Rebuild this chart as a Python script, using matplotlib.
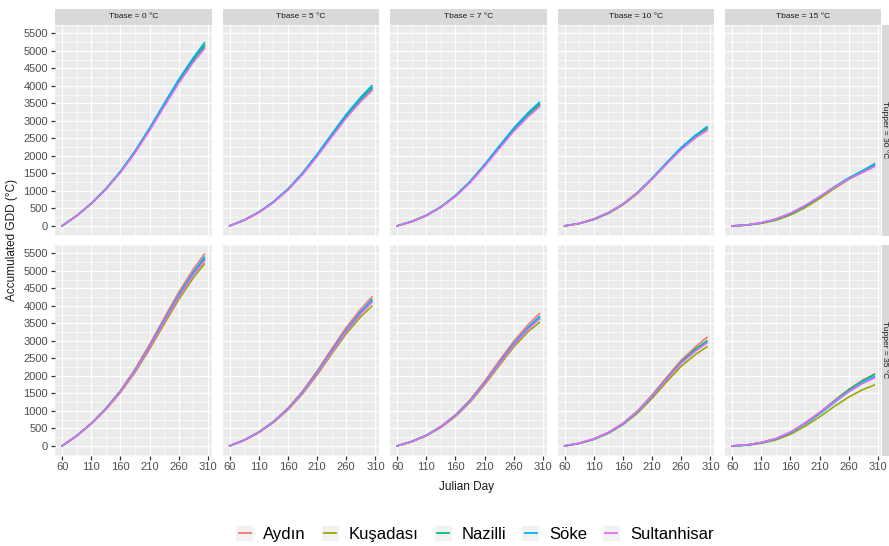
import matplotlib
matplotlib.use("Agg")
import matplotlib.pyplot as plt
from matplotlib.legend_handler import HandlerBase
from matplotlib.lines import Line2D
from matplotlib.patches import Rectangle

plt.rcParams['font.family'] = ['Liberation Sans', 'DejaVu Sans']

# ---------------- data ----------------
days = [60, 85, 110, 135, 160, 185, 210, 235, 260, 285, 304]
stations = ["Aydın", "Kuşadası", "Nazilli", "Söke", "Sultanhisar"]
colors = ["#F8766D", "#A3A500", "#00BF7D", "#00B0F6", "#E76BF3"]
tbase_labels = ["Tbase = 0 °C", "Tbase = 5 °C", "Tbase = 7 °C", "Tbase = 10 °C", "Tbase = 15 °C"]
tupper_labels = ["Tupper = 30 °C", "Tupper = 35 °C"]
x_ticks = [60, 110, 160, 210, 260, 310]
y_ticks = [0, 500, 1000, 1500, 2000, 2500, 3000, 3500, 4000, 4500, 5000, 5500]

# Tupper = 30 °C
gdd_u30_b0 = {
    "Aydın":       [0, 290, 640, 1055, 1545, 2115, 2765, 3445, 4115, 4715, 5110],
    "Kuşadası":    [0, 290, 635, 1050, 1535, 2105, 2755, 3445, 4125, 4735, 5150],
    "Nazilli":     [0, 290, 640, 1055, 1550, 2125, 2775, 3465, 4145, 4750, 5160],
    "Söke":        [0, 290, 640, 1060, 1555, 2135, 2795, 3495, 4185, 4805, 5230],
    "Sultanhisar": [0, 285, 630, 1040, 1520, 2085, 2725, 3405, 4075, 4675, 5060],
}
gdd_u30_b5 = {
    "Aydın":       [0, 165, 390, 680, 1045, 1490, 2015, 2575, 3125, 3600, 3900],
    "Kuşadası":    [0, 165, 385, 675, 1035, 1480, 2005, 2575, 3135, 3620, 3930],
    "Nazilli":     [0, 165, 390, 680, 1050, 1500, 2025, 2590, 3145, 3630, 3950],
    "Söke":        [0, 165, 390, 685, 1055, 1510, 2045, 2620, 3185, 3680, 4010],
    "Sultanhisar": [0, 160, 380, 665, 1025, 1465, 1980, 2535, 3080, 3555, 3860],
}
gdd_u30_b7 = {
    "Aydın":       [0, 125, 300, 540, 855, 1255, 1730, 2240, 2740, 3165, 3430],
    "Kuşadası":    [0, 125, 295, 535, 850, 1245, 1720, 2240, 2750, 3185, 3465],
    "Nazilli":     [0, 125, 300, 540, 860, 1260, 1740, 2255, 2760, 3195, 3480],
    "Söke":        [0, 125, 300, 545, 865, 1270, 1755, 2280, 2795, 3240, 3530],
    "Sultanhisar": [0, 120, 290, 530, 840, 1230, 1700, 2205, 2700, 3125, 3400],
}
gdd_u30_b10 = {
    "Aydın":       [0, 70, 195, 375, 625, 950, 1350, 1785, 2200, 2540, 2750],
    "Kuşadası":    [0, 65, 180, 355, 600, 925, 1335, 1785, 2215, 2570, 2790],
    "Nazilli":     [0, 70, 190, 370, 620, 950, 1355, 1800, 2225, 2580, 2800],
    "Söke":        [0, 70, 190, 370, 620, 950, 1360, 1810, 2240, 2600, 2830],
    "Sultanhisar": [0, 70, 195, 375, 620, 940, 1335, 1765, 2180, 2520, 2720],
}
gdd_u30_b15 = {
    "Aydın":       [0, 25, 90, 195, 355, 570, 820, 1085, 1335, 1540, 1700],
    "Kuşadası":    [0, 20, 70, 160, 310, 520, 780, 1065, 1330, 1555, 1740],
    "Nazilli":     [0, 25, 85, 190, 350, 565, 825, 1100, 1360, 1575, 1750],
    "Söke":        [0, 25, 85, 190, 350, 570, 830, 1110, 1370, 1590, 1770],
    "Sultanhisar": [0, 25, 90, 200, 365, 585, 835, 1095, 1340, 1540, 1700],
}
# Tupper = 35 °C
gdd_u35_b0 = {
    "Aydın":       [0, 290, 645, 1070, 1580, 2190, 2895, 3650, 4390, 5045, 5480],
    "Kuşadası":    [0, 285, 630, 1040, 1525, 2100, 2765, 3480, 4180, 4800, 5200],
    "Nazilli":     [0, 290, 640, 1060, 1555, 2145, 2830, 3560, 4280, 4915, 5330],
    "Söke":        [0, 290, 640, 1060, 1560, 2155, 2845, 3585, 4315, 4960, 5390],
    "Sultanhisar": [0, 285, 635, 1050, 1545, 2135, 2815, 3540, 4255, 4885, 5290],
}
gdd_u35_b5 = {
    "Aydın":       [0, 165, 395, 695, 1080, 1560, 2140, 2770, 3385, 3910, 4255],
    "Kuşadası":    [0, 160, 380, 665, 1030, 1485, 2030, 2625, 3205, 3695, 3995],
    "Nazilli":     [0, 165, 390, 685, 1055, 1520, 2080, 2690, 3285, 3795, 4125],
    "Söke":        [0, 165, 390, 685, 1060, 1530, 2095, 2710, 3315, 3835, 4175],
    "Sultanhisar": [0, 160, 385, 675, 1045, 1510, 2065, 2670, 3265, 3775, 4105],
}
gdd_u35_b7 = {
    "Aydın":       [0, 125, 305, 555, 885, 1315, 1845, 2425, 2990, 3470, 3775],
    "Kuşadası":    [0, 120, 290, 525, 840, 1245, 1745, 2290, 2825, 3270, 3525],
    "Nazilli":     [0, 125, 300, 545, 865, 1280, 1790, 2350, 2900, 3365, 3650],
    "Söke":        [0, 125, 300, 545, 870, 1290, 1805, 2370, 2925, 3395, 3690],
    "Sultanhisar": [0, 120, 295, 535, 855, 1270, 1780, 2335, 2880, 3340, 3620],
}
gdd_u35_b10 = {
    "Aydın":       [0, 75, 200, 385, 645, 1000, 1455, 1960, 2450, 2835, 3100],
    "Kuşadası":    [0, 70, 185, 360, 605, 935, 1360, 1830, 2275, 2620, 2830],
    "Nazilli":     [0, 75, 195, 380, 635, 985, 1430, 1925, 2400, 2775, 3000],
    "Söke":        [0, 70, 190, 370, 625, 970, 1410, 1900, 2370, 2735, 2950],
    "Sultanhisar": [0, 75, 200, 385, 640, 985, 1420, 1900, 2360, 2715, 2940],
}
gdd_u35_b15 = {
    "Aydın":       [0, 25, 95, 210, 390, 650, 955, 1290, 1615, 1890, 2050],
    "Kuşadası":    [0, 20, 75, 170, 330, 560, 830, 1125, 1395, 1615, 1740],
    "Nazilli":     [0, 25, 95, 205, 385, 645, 945, 1280, 1600, 1870, 2040],
    "Söke":        [0, 25, 90, 200, 375, 625, 915, 1235, 1545, 1815, 1980],
    "Sultanhisar": [0, 28, 97, 212, 395, 655, 950, 1260, 1550, 1795, 1940],
}

panels = [
    [gdd_u30_b0, gdd_u30_b5, gdd_u30_b7, gdd_u30_b10, gdd_u30_b15],
    [gdd_u35_b0, gdd_u35_b5, gdd_u35_b7, gdd_u35_b10, gdd_u35_b15],
]

# ---------------- layout ----------------
W, H = 889, 546
fig = plt.figure(figsize=(W / 100, H / 100), dpi=100)
fig.patch.set_facecolor("white")


def rect(left, top, width, height):
    return [left / W, 1 - (top + height) / H, width / W, height / H]


col_lefts = [55, 222.5, 390, 557.5, 725]
pw = 156.5
row_tops = [24.5, 244.5]
ph = 211

xmin, xmax = min(days), max(days)
xr = xmax - xmin
xlim = (xmin - 0.05 * xr, xmax + 0.05 * xr)
ymax_all = max(max(v) for row in panels for p in row for v in p.values())
ylim = (-0.05 * ymax_all, 1.05 * ymax_all)

x_minor = [(a + b) / 2 for a, b in zip(x_ticks[:-1], x_ticks[1:])]
y_step = y_ticks[1] - y_ticks[0]
y_minor = [t + y_step / 2 for t in [y_ticks[0] - y_step] + y_ticks]
y_minor = [m for m in y_minor if ylim[0] <= m <= ylim[1]]

for r in range(2):
    for c in range(5):
        ax = fig.add_axes(rect(col_lefts[c], row_tops[r], pw, ph))
        ax.set_facecolor("#EBEBEB")
        for s in ax.spines.values():
            s.set_visible(False)
        ax.set_xlim(*xlim)
        ax.set_ylim(*ylim)
        ax.set_xticks(x_ticks)
        ax.set_xticks(x_minor, minor=True)
        ax.set_yticks(y_ticks)
        ax.set_yticks(y_minor, minor=True)
        ax.grid(which="major", color="white", lw=0.9)
        ax.grid(which="minor", color="white", lw=0.45)
        ax.set_axisbelow(True)
        ax.tick_params(which="minor", length=0)
        ax.tick_params(which="major", length=3, width=0.9, color="#333333",
                       labelcolor="#4D4D4D", labelsize=8, pad=2)
        if c != 0:
            ax.tick_params(axis="y", which="major", length=0, labelleft=False)
        if r != 1:
            ax.tick_params(axis="x", which="major", length=0, labelbottom=False)
        data = panels[r][c]
        for st, col in zip(stations, colors):
            ax.plot(days, data[st], color=col, lw=1.2, solid_joinstyle="round")

        if r == 0:
            sax = fig.add_axes(rect(col_lefts[c], 9, pw, 15.5))
            sax.set_facecolor("#D9D9D9")
            sax.set_xticks([]); sax.set_yticks([])
            for s in sax.spines.values():
                s.set_visible(False)
            sax.text(0.5, 0.5, tbase_labels[c], ha="center", va="center",
                     fontsize=6, color="#1A1A1A", transform=sax.transAxes)
    rax = fig.add_axes(rect(882, row_tops[r], 15, ph))
    rax.set_facecolor("#D9D9D9")
    rax.set_xticks([]); rax.set_yticks([])
    for s in rax.spines.values():
        s.set_visible(False)
    fig.text(884.5 / W, 1 - (row_tops[r] + ph / 2) / H, tupper_labels[r],
             ha="center", va="center", rotation=-90, fontsize=6, color="#1A1A1A")

fig.text(12 / W, 1 - 240 / H, "Accumulated GDD (°C)", rotation=90,
         ha="center", va="center", fontsize=8.5, color="#1A1A1A")
fig.text(466 / W, 1 - 487 / H, "Julian Day", ha="center", va="center",
         fontsize=8.5, color="#1A1A1A")


class KeyHandler(HandlerBase):
    def create_artists(self, legend, orig_handle, xdescent, ydescent,
                       width, height, fontsize, trans):
        bg = Rectangle((-xdescent, -ydescent), width, height,
                       facecolor="#F2F2F2", edgecolor="none", transform=trans)
        y = -ydescent + height / 2
        ln = Line2D([-xdescent + 0.15 * width, -xdescent + 0.85 * width], [y, y],
                    color=orig_handle.get_color(), lw=1.3, transform=trans)
        return [bg, ln]


handles = [Line2D([], [], color=c) for c in colors]
fig.legend(handles, stations, loc="center", bbox_to_anchor=(475 / W, 1 - 534 / H),
           ncol=5, frameon=False, fontsize=12, handler_map={Line2D: KeyHandler()},
           handlelength=1.02, handleheight=1.02, handletextpad=0.6, columnspacing=0.95,
           borderpad=0)

fig.savefig("out.png", dpi=100)
